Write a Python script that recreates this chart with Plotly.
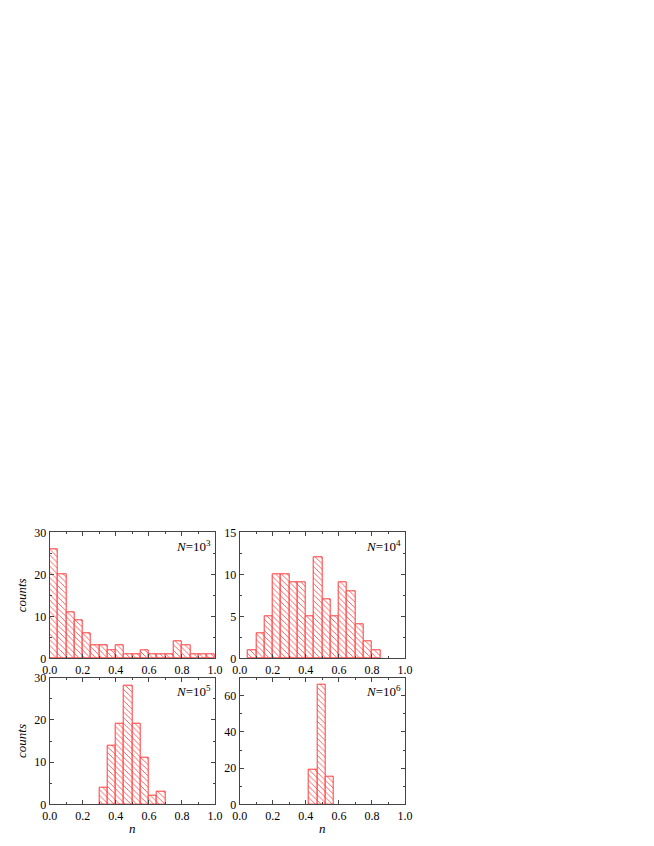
import plotly.graph_objects as go

# histogram bins (left edges) and counts, bin width 0.05
BIN_W = 0.05
edges_1e3 = [0.0, 0.05, 0.1, 0.15, 0.2, 0.25, 0.3, 0.35, 0.4, 0.45,
             0.5, 0.55, 0.6, 0.65, 0.7, 0.75, 0.8, 0.85, 0.9, 0.95]
counts_1e3 = [26, 20, 11, 9, 6, 3, 3, 2, 3, 1, 1, 2, 1, 1, 1, 4, 3, 1, 1, 1]

edges_1e4 = [0.05, 0.1, 0.15, 0.2, 0.25, 0.3, 0.35, 0.4, 0.45, 0.5,
             0.55, 0.6, 0.65, 0.7, 0.75, 0.8]
counts_1e4 = [1, 3, 5, 10, 10, 9, 9, 5, 12, 7, 5, 9, 8, 4, 2, 1]

edges_1e5 = [0.3, 0.35, 0.4, 0.45, 0.5, 0.55, 0.6, 0.65]
counts_1e5 = [4, 14, 19, 28, 19, 11, 2, 3]

edges_1e6 = [0.42, 0.47, 0.52]
counts_1e6 = [19, 66, 15]

labels = ["3", "4", "5", "6"]
y_ranges = [(0, 30, 10), (0, 15, 5), (0, 30, 10), (0, 70, 20)]

W, H = 654, 846
PAD = 8  # page body margin
# panel boxes in window pixels (left, right, top, bottom)
COLS = [(49.7, 215.0), (239.7, 405.0)]
ROWS = [(532.3, 658.3), (677.7, 804.3)]

RED = "#ff3b3b"
AXC = "#444444"
FONT = "Liberation Serif, Times New Roman, serif"

panels = [
    (edges_1e3, counts_1e3),
    (edges_1e4, counts_1e4),
    (edges_1e5, counts_1e5),
    (edges_1e6, counts_1e6),
]

fig = go.Figure()
for i, (edges, counts) in enumerate(panels):
    r, c = divmod(i, 2)
    ax = "" if i == 0 else str(i + 1)
    fig.add_trace(go.Bar(
        x=[e + BIN_W / 2 for e in edges],
        y=counts,
        width=BIN_W,
        xaxis="x" + ax,
        yaxis="y" + ax,
        marker=dict(
            color="white",
            line=dict(color=RED, width=1),
            pattern=dict(shape="\\", fgcolor=RED, bgcolor="white",
                         size=4, solidity=0.2),
        ),
        showlegend=False,
    ))

    left, right = COLS[c]
    top, bottom = ROWS[r]
    xdom = [(left - PAD) / W, (right - PAD) / W]
    ydom = [1 - (bottom - PAD) / H, 1 - (top - PAD) / H]
    y0, y1, ydt = y_ranges[i]
    axis_common = dict(
        showline=True, linecolor=AXC, linewidth=1, mirror="ticks",
        ticks="inside", ticklen=4, tickcolor=AXC,
        showgrid=False, zeroline=False, automargin=False,
        tickfont=dict(family=FONT, size=12, color="black"),
    )
    fig.update_layout(**{
        "xaxis" + ax: dict(
            axis_common, domain=xdom, anchor="y" + ax, range=[0, 1],
            dtick=0.2, tickformat=".1f", ticklabelstandoff=0,
            minor=dict(dtick=0.1, ticks="inside", ticklen=2, tickcolor=AXC),
            title=dict(text="<i>n</i>", font=dict(family=FONT, size=13),
                       standoff=2) if r == 1 else None,
        ),
        "yaxis" + ax: dict(
            axis_common, domain=ydom, anchor="x" + ax, range=[y0, y1],
            dtick=ydt, ticklabelstandoff=0,
            minor=dict(dtick=ydt / 2, ticks="inside", ticklen=2, tickcolor=AXC),
            title=dict(text="<i>counts</i>", font=dict(family=FONT, size=13),
                       standoff=4) if c == 0 else None,
        ),
    })
    fig.add_annotation(
        text="<i>N</i>=10<sup>" + labels[i] + "</sup>",
        xref="x" + ax + " domain", yref="y" + ax + " domain",
        x=0.985, y=0.97, xanchor="right", yanchor="top",
        showarrow=False, font=dict(family=FONT, size=13, color="black"),
    )

fig.update_layout(
    template="none",
    width=W, height=H,
    margin=dict(l=0, r=0, t=0, b=0),
    plot_bgcolor="white", paper_bgcolor="white",
    bargap=0,
    font=dict(family=FONT, color="black"),
)

fig.write_html("out.html")
